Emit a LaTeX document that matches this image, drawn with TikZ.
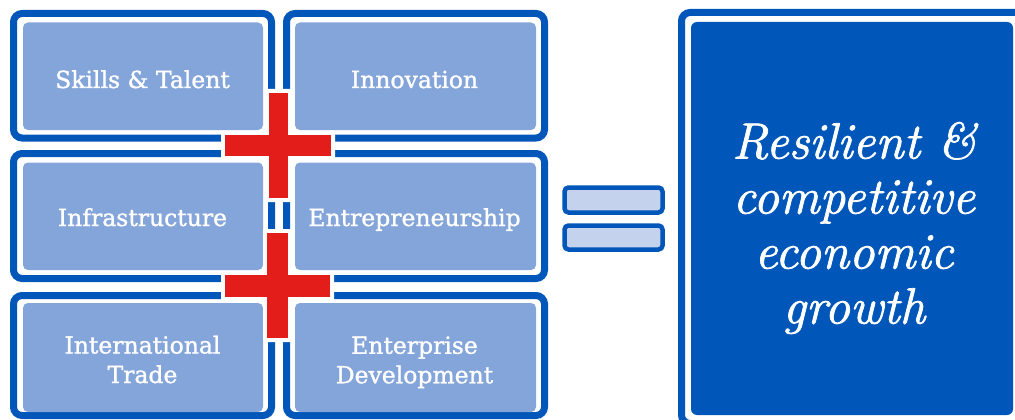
\documentclass[tikz,border=0pt]{standalone}
\usepackage{fontspec}
\newfontfamily\slabfont{DejaVu Serif}[FakeBold=1.2]
\newfontfamily\bigfont{lmroman12-italic.otf}[FakeBold=1.5]
\definecolor{bblue}{RGB}{1,87,185}
\definecolor{lblue}{RGB}{132,165,218}
\definecolor{eqfill}{RGB}{197,210,238}
\definecolor{pred}{RGB}{227,30,26}
\tikzset{
  outerbox/.style={draw=bblue, line width=7pt, fill=white, rounded corners=8.5pt},
  innerbox/.style={fill=lblue, rounded corners=5pt},
  bigin/.style={fill=bblue, rounded corners=6pt},
  eqbar/.style={draw=bblue, line width=4.5pt, fill=eqfill, rounded corners=4pt},
  lbl/.style={text=white, font=\slabfont\fontsize{23.5}{29.5}\selectfont, align=center, inner sep=0pt},
  biglbl/.style={text=white, font=\bigfont\fontsize{51}{55}\selectfont, align=center, inner sep=0pt},
  plusback/.style={fill=white, rounded corners=2pt},
  plusbar/.style={fill=pred}
}
\begin{document}
\begin{tikzpicture}[x=1pt,y=-1pt]
\useasboundingbox (0,0) rectangle (1015,420);
\clip (0,0) rectangle (1015,420);
% left grid: outer frames
\draw[outerbox] (13.5,13.5) rectangle (271.5,138);
\draw[outerbox] (286.5,13.5) rectangle (544.5,138);
\draw[outerbox] (13.5,153.5) rectangle (271.5,278.5);
\draw[outerbox] (286.5,153.5) rectangle (544.5,278.5);
\draw[outerbox] (13.5,295.5) rectangle (271.5,415.5);
\draw[outerbox] (286.5,295.5) rectangle (544.5,415.5);
% inner fills
\fill[innerbox] (23,22.5) rectangle (263,130);
\fill[innerbox] (295,22.5) rectangle (536,130);
\fill[innerbox] (23,162.5) rectangle (263,270);
\fill[innerbox] (295,162.5) rectangle (536,270);
\fill[innerbox] (23,303) rectangle (263,412);
\fill[innerbox] (295,303) rectangle (536,412);
% labels
\node[lbl, anchor=base] (skills) at (142.5,88) {Skills \& Talent};
\node[lbl, anchor=base] (innov) at (414.5,88) {Innovation};
\node[lbl, anchor=base] (infra) at (142.5,226) {Infrastructure};
\node[lbl, anchor=base] (entre) at (414.5,226) {Entrepreneurship};
\node[lbl] (trade) at (142.5,359.5) {International\\Trade};
\node[lbl] (enter) at (414.5,362.3) {Enterprise\\Development};
% plus signs
\fill[plusback] (265,89) rectangle (292,202);
\fill[plusback] (221,131) rectangle (335,160);
\fill[plusbar] (269,93) rectangle (288,198);
\fill[plusbar] (225,135) rectangle (331,156);
\fill[plusback] (263,229) rectangle (292,342);
\fill[plusback] (221,271) rectangle (334,301);
\fill[plusbar] (267,233) rectangle (288,338);
\fill[plusbar] (225,275) rectangle (330,297);
% equals sign
\draw[eqbar] (564.5,187.5) rectangle (662.5,212.5);
\draw[eqbar] (564.5,225.5) rectangle (662.5,249.5);
% result box
\draw[outerbox] (681.5,12.5) rectangle (1026,423.5);
\fill[bigin] (691,22) rectangle (1013,415);
\node[biglbl] (growth) at (854,228) {Resilient \&\\competitive\\economic\\growth};
\end{tikzpicture}
\end{document}
